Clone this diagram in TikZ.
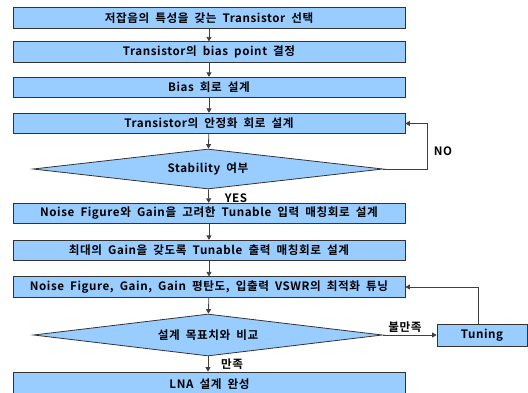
\documentclass[tikz,border=0pt]{standalone}
\usepackage{fontspec}
\setmainfont{Noto Sans CJK KR}[BoldFont={* Bold}, LetterSpace=5, WordSpace=1.9]
\usetikzlibrary{shapes.geometric,arrows.meta}
\definecolor{boxfill}{HTML}{99CCFF}
\definecolor{edge}{HTML}{333333}
\definecolor{conn}{HTML}{404040}
\tikzset{
  txt/.style={font=\bfseries\fontsize{11.6}{13}\selectfont},
  box/.style={txt, draw=edge, line width=0.8pt, fill=boxfill, minimum width=392pt, minimum height=20.5pt, inner sep=0pt},
  dec/.style={txt, draw=edge, line width=0.8pt, fill=boxfill, diamond, inner sep=0pt},
  arr/.style={draw=conn, line width=0.8pt, -{Triangle[length=4.5pt,width=5pt]}},
  lbl/.style={txt, inner sep=0pt}
}
\begin{document}
\begin{tikzpicture}[x=1pt,y=-1pt]
\useasboundingbox (0,0) rectangle (528,392);
\begin{scope}
\clip (0,0) rectangle (528,392);
\node[box] (b1) at (209,18) {저잡음의 특성을 갖는 Transistor 선택};
\node[box] (b2) at (209,52) {Transistor의 bias point 결정};
\node[box] (b3) at (209,87.5) {Bias 회로 설계};
\node[box] (b4) at (209,123.5) {Transistor의 안정화 회로 설계};
\node[dec, minimum width=350pt, minimum height=40pt, aspect=8.75] (d1) at (208,169) {Stability 여부};
\node[box] (b5) at (209,213.5) {Noise Figure와 Gain을 고려한 Tunable 입력 매칭회로 설계};
\node[box] (b6) at (209,250.5) {최대의 Gain을 갖도록 Tunable 출력 매칭회로 설계};
\node[box] (b7) at (209,287) {Noise Figure, Gain, Gain 평탄도, 입출력 VSWR의 최적화 튜닝};
\node[dec, minimum width=349pt, minimum height=42pt, aspect=8.3] (d2) at (208,335) {설계 목표치와 비교};
\node[box, minimum width=90pt, minimum height=22pt] (tun) at (482,335) {Tuning};
\node[box, minimum height=24pt] (b8) at (209.5,384) {LNA 설계 완성};

\draw[arr] (b1) -- (b2);
\draw[arr] (b2) -- (b3);
\draw[arr] (b3) -- (b4);
\draw[arr] (b4) -- (d1);
\draw[arr] (d1) -- (b5);
\draw[arr] (b5) -- (b6);
\draw[arr] (b6) -- (b7);
\draw[arr] (b7) -- (d2);
\draw[arr] (d2.south) -- (d2.south |- b8.north);
\draw[arr] (d1.east) -- ++(44,0) |- (b4.east);
\draw[arr] (d2.east) -- (tun.west);
\draw[arr] ([xshift=-4pt]tun.north) |- (b7.east);

\node[lbl] (no) at (443,151) {NO};
\node[lbl] (yes) at (236,198) {YES};
\node[lbl] (bm) at (405,327) {불만족};
\node[lbl] (mj) at (232,364) {만족};
\end{scope}
\end{tikzpicture}
\end{document}
